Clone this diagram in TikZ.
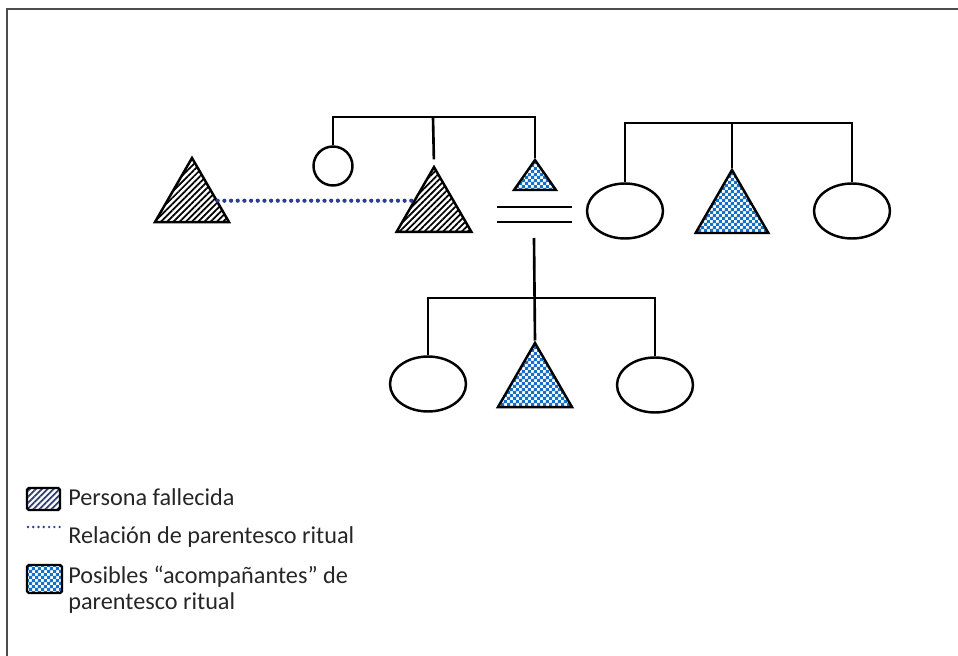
\documentclass[tikz,border=0pt]{standalone}
\usepackage{fontspec}
\setmainfont{Carlito}
\usetikzlibrary{shapes.geometric,patterns,patterns.meta}
\definecolor{checkblue}{RGB}{22,112,200}
\definecolor{dotblue}{RGB}{45,60,140}
\definecolor{hatchnavy}{RGB}{50,62,110}
\pgfdeclarepatternformonly{finecheck}{\pgfpointorigin}{\pgfqpoint{3.4pt}{3.4pt}}{\pgfqpoint{3.4pt}{3.4pt}}
{
  \pgfpathrectangle{\pgfpointorigin}{\pgfqpoint{1.75pt}{1.75pt}}
  \pgfpathrectangle{\pgfqpoint{1.7pt}{1.7pt}}{\pgfqpoint{1.75pt}{1.75pt}}
  \pgfusepath{fill}
}
\tikzset{
  kin/.style={draw=black, line width=1.4pt, inner sep=0pt},
  tri/.style={kin, regular polygon, regular polygon sides=3},
  dead/.style={tri, pattern={Lines[angle=45,distance=2.5pt,line width=1pt]}},
  guide/.style={tri, pattern=finecheck, pattern color=checkblue},
  woman/.style={kin, ellipse, minimum width=1.52cm, minimum height=1.1cm},
  link/.style={line width=1.5pt},
  ritual/.style={dotblue, line width=2.4pt, line cap=round, dash pattern=on 0pt off 3.8pt},
  legbox/.style={draw=black, line width=1.4pt, rounded corners=1pt, inner sep=0pt},
  legtext/.style={anchor=west, inner sep=0pt, text=black!85, font=\fontsize{13.8}{14.7}\selectfont}
}

\begin{document}
\begin{tikzpicture}[x=0.02cm, y=-0.02cm]
\useasboundingbox (0,0) rectangle (958,656);
\draw[black!70, line width=0.6pt] (958,9) -- (7,9) -- (7,656);

% generation of the deceased
\node[dead, minimum size=1.71cm] (dec1) at (192,200.7) {};
\node[kin, circle, minimum size=0.78cm] (gm) at (333,166) {};
\node[dead, minimum size=1.73cm] (dec2) at (434,210.3) {};
\node[guide, minimum size=0.8cm, xscale=1.21] (sis) at (535,180) {};
\node[woman] (wL) at (625,211) {};
\node[guide, minimum size=1.68cm] (bro) at (732,212) {};
\node[woman] (wR) at (852,211) {};

% children
\node[woman] (kid1) at (428,384) {};
\node[guide, minimum size=1.71cm] (kid2) at (535,385.7) {};
\node[woman] (kid3) at (655,385) {};

\coordinate (topbar) at (433,117);
\draw[link] (gm.north) |- (topbar) -| (sis.north);
\draw[link, shorten >=3pt] (topbar) -- (dec2.north);

\coordinate (rbar) at (732,123);
\draw[link] (wL.north) |- (rbar) -| (wR.north);
\draw[link] (rbar) -- (bro.north);

\coordinate (mA) at (497,207);
\coordinate (mB) at (572,207);
\coordinate (mC) at (497,222);
\coordinate (mD) at (572,222);
\draw[link] (mA) -- (mB);
\draw[link] (mC) -- (mD);

\coordinate (desc) at (534,238);
\coordinate (kbar) at (534,298);
\draw[link] (desc) -- (kid2.north);
\draw[link] (kid1.north) |- (kbar) -| (kid3.north);

\draw[ritual] (dec1.east) -- (dec1.east -| dec2.side 1);

% legend
\node[legbox, minimum width=0.66cm, minimum height=0.44cm, pattern={Lines[angle=45,distance=2.4pt,line width=1pt]}, pattern color=hatchnavy] (kdead) at (43.5,499) {};
\node[legtext] (tdead) at (68,497) {Persona fallecida};
\coordinate (dotA) at (28,527);
\coordinate (dotB) at (62,527);
\draw[ritual, line width=1.5pt, dash pattern=on 0pt off 3pt] (dotA) -- (dotB);
\node[legtext] (tritual) at (68,537) {Relación de parentesco ritual};
\node[legbox, minimum width=0.7cm, minimum height=0.56cm, pattern=finecheck, pattern color=checkblue] (kguide) at (44.5,579) {};
\node[legtext, align=left] (tguide) at (68,590) {Posibles “acompañantes” de\\parentesco ritual};
\end{tikzpicture}
\end{document}
